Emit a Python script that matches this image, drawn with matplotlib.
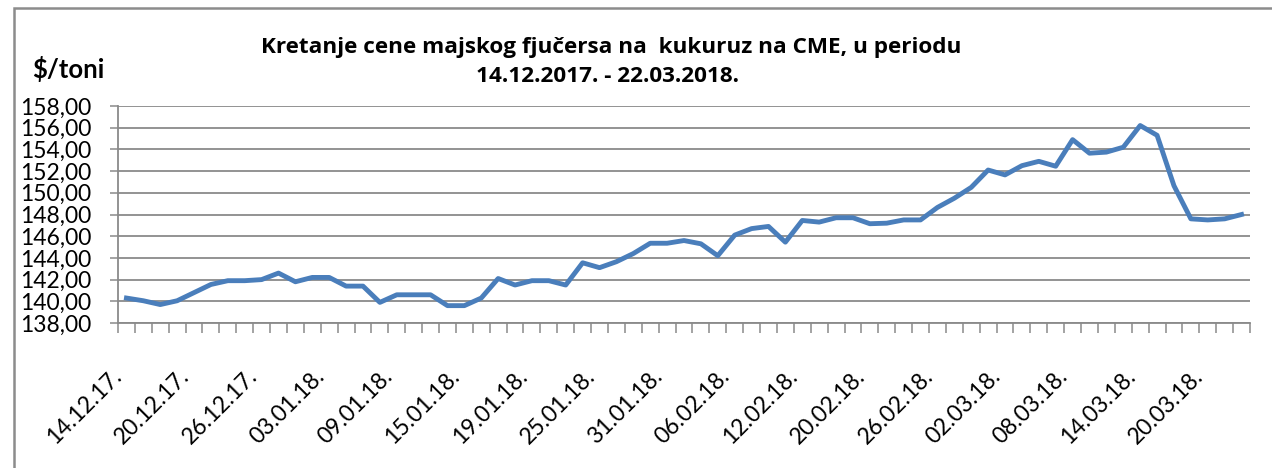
import matplotlib
matplotlib.use("Agg")
import matplotlib.pyplot as plt
from matplotlib.patches import Rectangle
from matplotlib.ticker import FixedLocator, FuncFormatter
from matplotlib.transforms import ScaledTranslation

# ---- data ----
prices = [140.3, 140.05, 139.7, 140.05, 140.8, 141.55, 141.9, 141.9, 142.0, 142.6,
          141.8, 142.2, 142.2, 141.4, 141.4, 139.9, 140.6, 140.6, 140.6, 139.6,
          139.6, 140.3, 142.1, 141.5, 141.9, 141.9, 141.5, 143.55, 143.1, 143.65,
          144.4, 145.35, 145.35, 145.6, 145.3, 144.2, 146.1, 146.7, 146.9, 145.45,
          147.45, 147.3, 147.7, 147.7, 147.15, 147.2, 147.5, 147.5, 148.65, 149.5,
          150.5, 152.1, 151.65, 152.5, 152.9, 152.45, 154.9, 153.65, 153.75, 154.2,
          156.2, 155.3, 150.65, 147.6, 147.5, 147.6, 148.0]
tick_labels = ["14.12.17.", "20.12.17.", "26.12.17.", "03.01.18.", "09.01.18.",
               "15.01.18.", "19.01.18.", "25.01.18.", "31.01.18.", "06.02.18.",
               "12.02.18.", "20.02.18.", "26.02.18.", "02.03.18.", "08.03.18.",
               "14.03.18.", "20.03.18."]
label_step = 4
y_ticks = [138, 140, 142, 144, 146, 148, 150, 152, 154, 156, 158]
title_line1 = "Kretanje cene majskog fjučersa na  kukuruz na CME, u periodu"
title_line2 = "14.12.2017. - 22.03.2018."
y_unit = "$/toni"

FONT = ["Lato", "DejaVu Sans"]
TITLE_FONT = ["Open Sans", "DejaVu Sans"]
plt.rcParams["font.family"] = FONT

fig = plt.figure(figsize=(12.72, 4.68), dpi=100)
W, H = 1272, 468
ax = fig.add_axes([118 / W, 1 - 323 / H, (1250 - 118) / W, (323 - 106) / H])

n = len(prices)
xs = list(range(n))
grid_c = "#8a8a8a"

ax.plot(xs, prices, color="#4a7ebb", lw=3.5, solid_joinstyle="round", zorder=3)

ax.set_xlim(-0.5, n - 0.5)
ax.set_ylim(y_ticks[0], y_ticks[-1])
ax.set_yticks(y_ticks)
ax.yaxis.set_major_formatter(FuncFormatter(lambda v, p: f"{v:.2f}".replace(".", ",")))
ax.grid(axis="y", color=grid_c, lw=1.3)
ax.set_axisbelow(True)

ax.set_xticks(xs[::label_step][:len(tick_labels)])
ax.set_xticklabels(tick_labels, rotation=45, ha="right", va="center",
                   rotation_mode="anchor", fontsize=16.5)
ax.xaxis.set_minor_locator(FixedLocator([i - 0.5 for i in range(n + 1)]))
ax.tick_params(axis="x", which="major", length=0, pad=28)
ax.tick_params(axis="x", which="minor", length=7, width=1.1, color=grid_c)
ax.tick_params(axis="y", which="major", length=6, width=1.1, color=grid_c,
               labelsize=16.5, pad=13)

shift = ScaledTranslation(-0.08, -0.11, fig.dpi_scale_trans)
for lbl in ax.get_xticklabels():
    lbl.set_transform(lbl.get_transform() + shift)

for s in ["top", "right"]:
    ax.spines[s].set_visible(False)
for s in ["left", "bottom"]:
    ax.spines[s].set_color(grid_c)
    ax.spines[s].set_linewidth(1.3)

fig.text(611 / W, 1 - 47 / H, title_line1, ha="center", va="center",
         fontsize=16.2, fontweight="bold", family=TITLE_FONT)
fig.text(607 / W, 1 - 77 / H, title_line2, ha="center", va="center",
         fontsize=16.2, fontweight="bold", family=TITLE_FONT)
fig.text(68 / W, 1 - 69 / H, y_unit, ha="center", va="center",
         fontsize=18.5, fontweight="bold")

fig.add_artist(Rectangle((14 / W, -0.2), 1.2, (1 - 8 / H) + 0.2,
                         transform=fig.transFigure, fill=False,
                         edgecolor="#8c8c8c", lw=1.8))

fig.savefig("out.png", dpi=100)
